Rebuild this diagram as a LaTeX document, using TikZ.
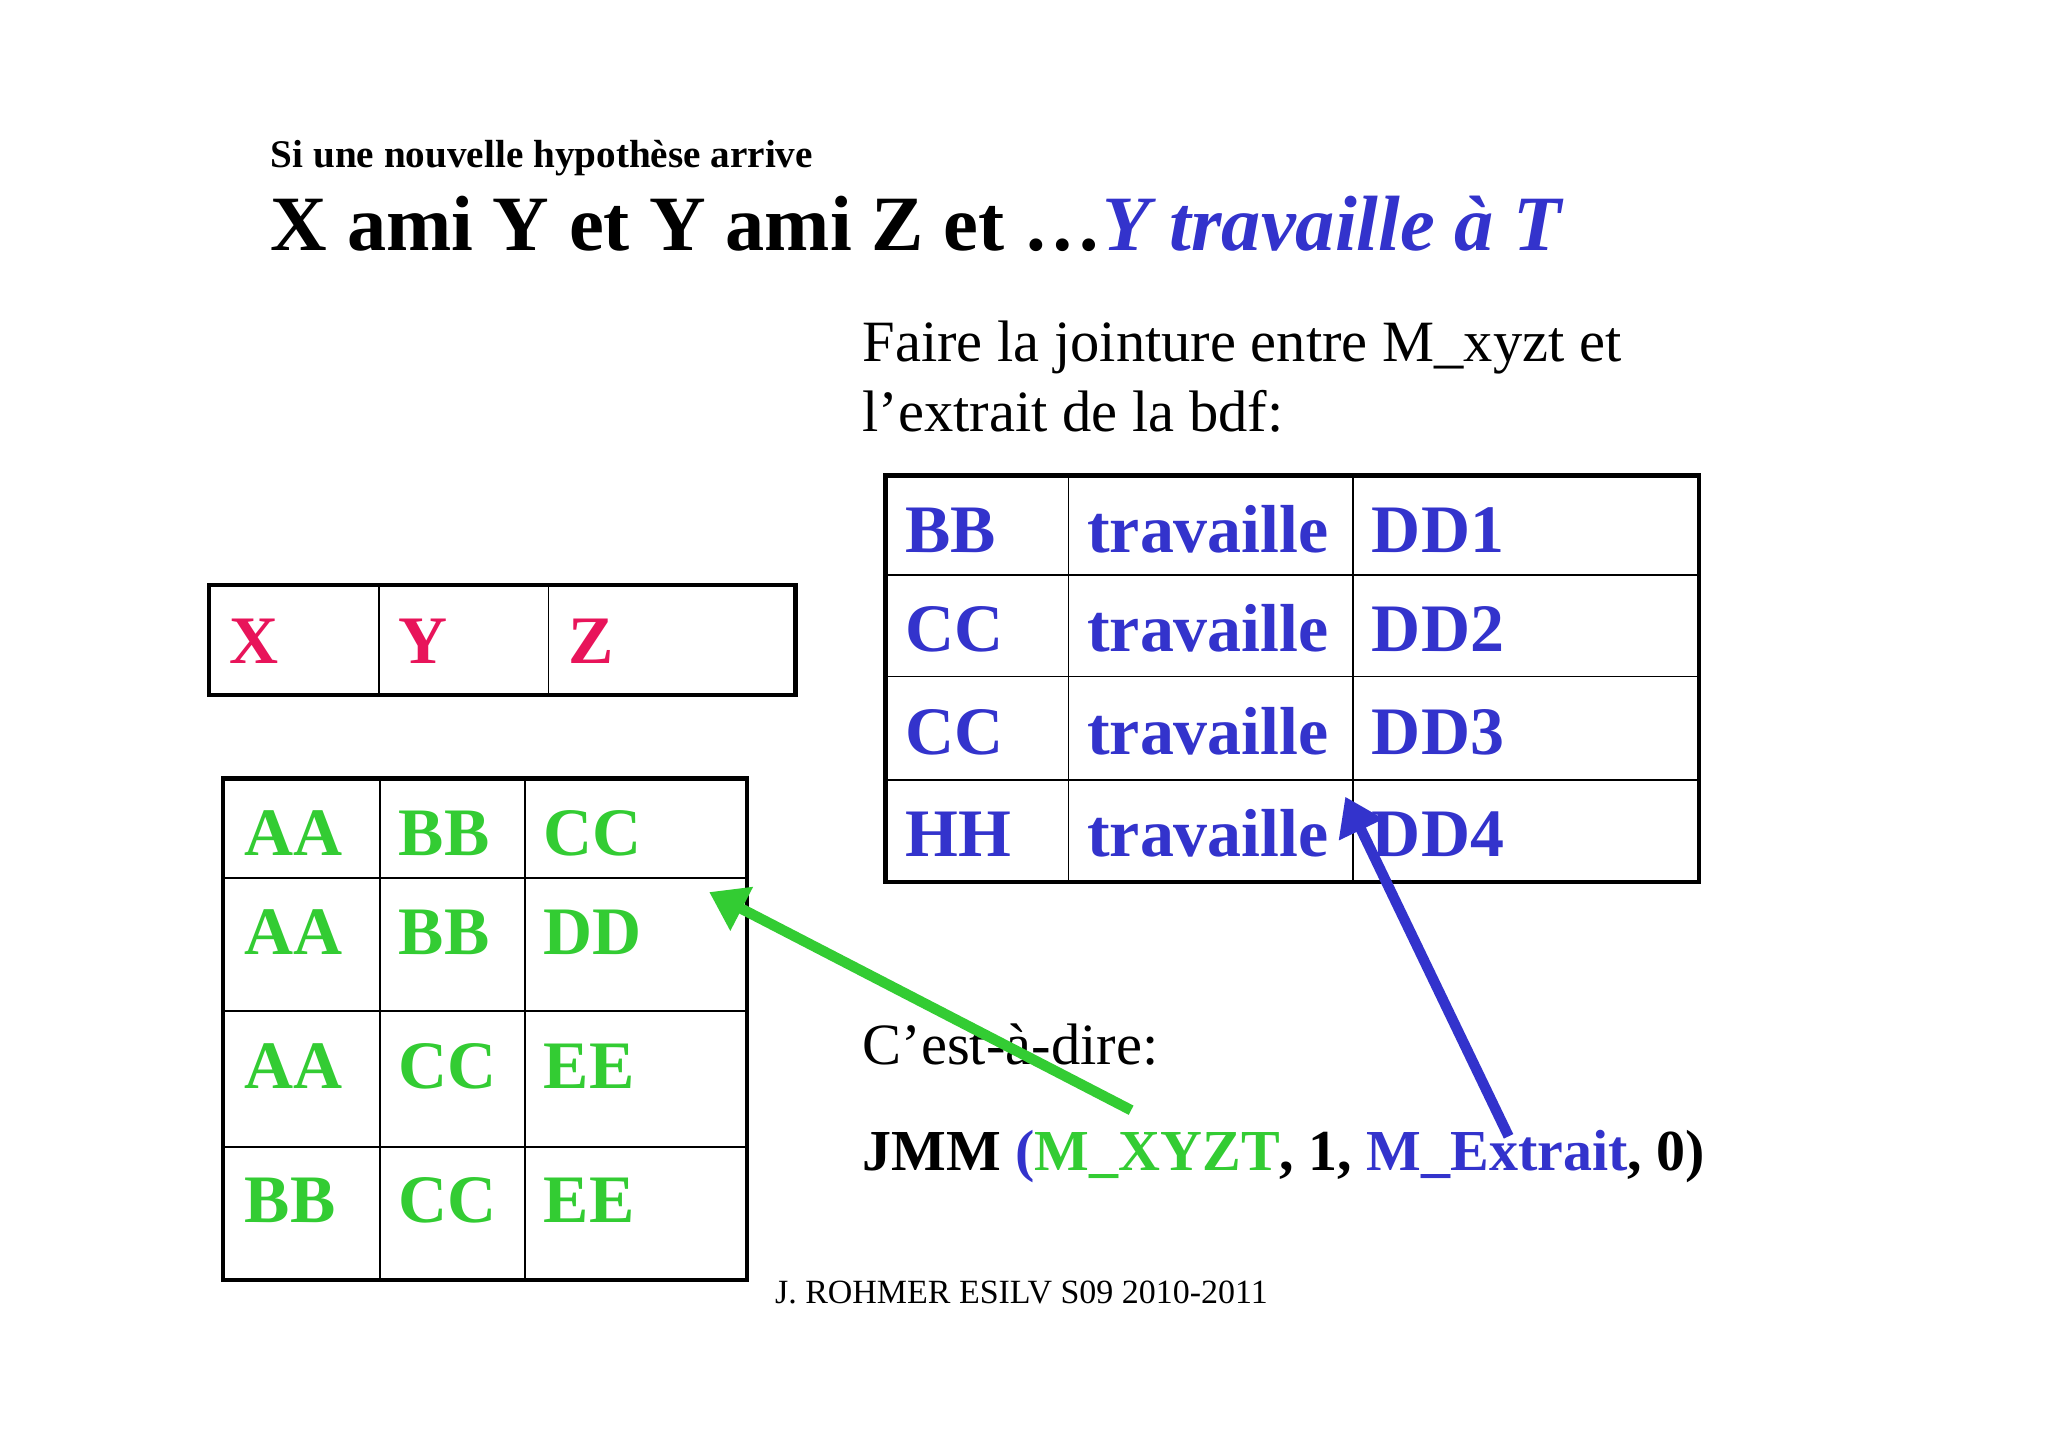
\documentclass[tikz,border=0pt]{standalone}
\usepackage{fontspec}
\setmainfont{Liberation Serif}
\usetikzlibrary{arrows.meta}
\definecolor{tred}{HTML}{E8145A}
\definecolor{tgreen}{HTML}{33CC33}
\definecolor{tblue}{HTML}{3333CC}
\tikzset{
 cell/.style={anchor=base west,inner sep=0pt,font=\fontsize{26}{30}\selectfont\bfseries},
 txt/.style={anchor=base west,inner sep=0pt,font=\fontsize{22.4}{26}\selectfont},
 outer/.style={line width=1.6pt},
 inner/.style={line width=0.7pt},
 bigarrow/.style={line width=4pt,-{Triangle[length=14pt,width=18pt]}}
}
\begin{document}
\begin{tikzpicture}[x=0.5pt,y=-0.5pt]
\useasboundingbox[fill=white] (0,0) rectangle (1568,1108);
\node[anchor=base west,inner sep=0pt,font=\fontsize{15}{18}\selectfont\bfseries] (sub) at (207,128) {Si une nouvelle hypothèse arrive};
\node[anchor=base west,inner sep=0pt,font=\fontsize{30}{36}\selectfont\bfseries] (title) at (207,192) {X ami Y et Y ami Z et \dots\textcolor{tblue}{\itshape Y travaille à T}};
\node[txt] (faire) at (660,277) {Faire la jointure entre M\_xyzt et};
\node[txt] (faire2) at (660,330) {l’extrait de la bdf:};
% XYZ table
\draw[outer] (160,448) rectangle (609,532);
\draw[inner] (290,448)--(290,532) (420,448)--(420,532);
\node[cell,text=tred] (hx) at (175,508) {X};
\node[cell,text=tred] (hy) at (305,508) {Y};
\node[cell,text=tred] (hz) at (435,508) {Z};
% green table
\draw[outer] (171,596) rectangle (572,980);
\draw[inner] (171,672)--(572,672) (171,774)--(572,774) (171,878)--(572,878) (291,596)--(291,980) (402,596)--(402,980);
\foreach \a/\b/\c/\y/\n in {AA/BB/CC/655/1,AA/BB/DD/731/2,AA/CC/EE/833/3,BB/CC/EE/936/4}{
 \node[cell,text=tgreen] (g\n a) at (187,\y) {\a};
 \node[cell,text=tgreen] (g\n b) at (305,\y) {\b};
 \node[cell,text=tgreen] (g\n c) at (416,\y) {\c};
}
% blue table
\draw[outer] (678,364) rectangle (1301,675);
\draw[inner] (678,440)--(1301,440) (678,518)--(1301,518) (678,597)--(1301,597) (818,364)--(818,675) (1036,364)--(1036,675);
\foreach \a/\c/\y/\n in {BB/DD1/423/1,CC/DD2/499/2,CC/DD3/578/3,HH/DD4/656/4}{
 \node[cell,text=tblue] (b\n a) at (693,\y) {\a};
 \node[cell,text=tblue] (b\n b) at (832,\y) {travaille};
 \node[cell,text=tblue] (b\n c) at (1050,\y) {\c};
}
\node[txt] (cest) at (660,815) {C’est-à-dire:};
\node[txt,font=\fontsize{22.2}{26}\selectfont\bfseries] (jmm) at (660,896) {JMM \textcolor{tblue}{(}\textcolor{tgreen}{M\_XYZT}, 1, \textcolor{tblue}{M\_Extrait}, 0)};
\node[anchor=base west,inner sep=0pt,font=\fontsize{13}{15}\selectfont] (foot) at (593,998) {J. ROHMER ESILV S09 2010-2011};
\coordinate (gs) at (866,850); \coordinate (ge) at (543,683);
\coordinate (bs) at (1155,870); \coordinate (be) at (1030,610);
\draw[bigarrow,tgreen] (gs)--(ge);
\draw[bigarrow,tblue] (bs)--(be);
\end{tikzpicture}
\end{document}
